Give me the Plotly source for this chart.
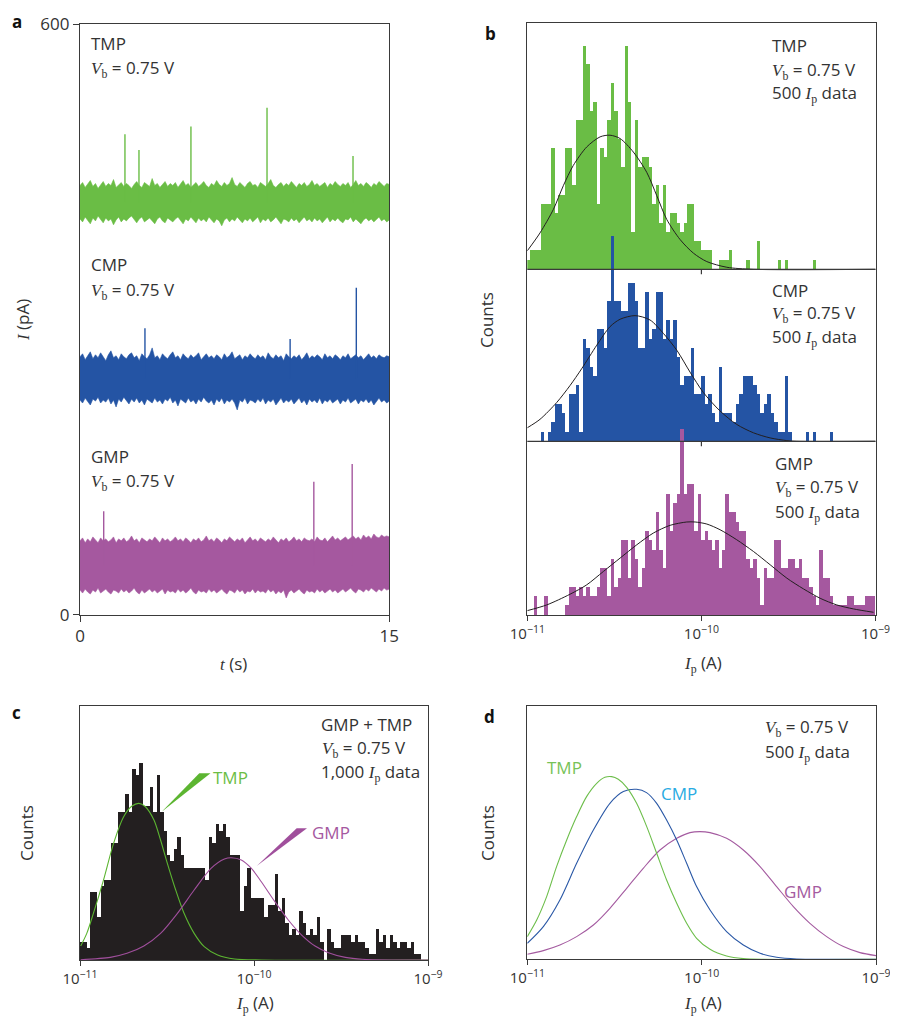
import plotly.graph_objects as go

# page body has an 8 px margin: figure is sized so that it ends exactly at the window edges
OFF = 8
W, H = 898 - OFF, 1019 - OFF


def px(x):
    return (x - OFF) / W


def py(y):
    return 1 - (y - OFF) / H


# ---------------- Panel a : current traces (pA), noise envelopes sampled over 0-15 s ----------------
tmp_upper = [436, 439, 434, 437, 441, 435, 438, 433, 437, 440,
             435, 438, 436, 442, 434, 437, 439, 435, 438, 436,
             433, 437, 440, 436, 434, 439, 437, 435, 443, 436,
             438, 434, 437, 440, 435, 438, 436, 439, 434, 437,
             441, 436, 438, 434, 437, 439, 435, 437, 440, 436,
             434, 438, 436, 441, 437, 435, 439, 436, 438, 444,
             437, 435, 439, 436, 434, 438, 440, 436, 437, 434,
             439, 437, 435, 438, 442, 436, 434, 437, 439, 435,
             438, 436, 440, 437, 434, 438, 436, 439, 435, 437,
             441, 436, 438, 435, 437, 439, 434, 438, 436, 440,
             437, 435, 438, 436, 439, 434, 437, 441, 436, 438,
             435, 439, 437, 434, 438, 436, 440, 437, 435, 438, 437]
tmp_lower = [402, 399, 404, 401, 397, 403, 400, 405, 401, 398,
             403, 400, 402, 396, 401, 404, 399, 402, 400, 403,
             405, 401, 398, 402, 404, 399, 401, 403, 400, 397,
             402, 404, 400, 398, 403, 401, 399, 402, 404, 400,
             397, 402, 400, 404, 401, 398, 403, 400, 402, 399,
             404, 401, 398, 402, 400, 395, 401, 403, 399, 402,
             400, 404, 401, 398, 402, 400, 403, 399, 401, 404,
             398, 402, 400, 403, 399, 401, 404, 400, 397, 402,
             401, 399, 403, 400, 402, 398, 401, 404, 400, 402,
             399, 403, 400, 402, 398, 401, 404, 399, 402, 400,
             403, 400, 398, 402, 401, 404, 399, 402, 400, 397,
             401, 403, 400, 402, 399, 401, 404, 400, 402, 399, 401]
cmp_upper = [262, 265, 259, 263, 267, 260, 264, 261, 266, 262,
             258, 264, 268, 261, 263, 259, 265, 262, 260, 264,
             266, 261, 263, 258, 265, 262, 260, 264, 271, 261,
             263, 259, 265, 262, 260, 264, 267, 261, 263, 259,
             265, 262, 260, 264, 261, 263, 266, 259, 262, 265,
             261, 263, 260, 264, 262, 259, 265, 261, 263, 267,
             260, 262, 264, 259, 263, 261, 265, 262, 260, 264,
             261, 263, 259, 266, 262, 260, 264, 261, 263, 258,
             265, 262, 260, 263, 261, 264, 259, 262, 266, 260,
             263, 261, 264, 262, 259, 265, 261, 263, 260, 264,
             262, 259, 263, 261, 265, 260, 262, 264, 261, 263,
             259, 262, 265, 261, 263, 260, 264, 262, 261, 263, 262]
cmp_lower = [218, 215, 220, 216, 213, 219, 217, 221, 215, 218,
             216, 220, 214, 218, 211, 219, 216, 221, 217, 214,
             219, 216, 220, 215, 218, 213, 219, 217, 215, 220,
             216, 218, 214, 219, 217, 221, 215, 218, 212, 219,
             217, 215, 220, 216, 218, 214, 219, 216, 221, 217,
             215, 218, 213, 219, 216, 220, 214, 218, 216, 219,
             215, 208, 218, 216, 220, 214, 218, 217, 215, 219,
             216, 220, 214, 218, 216, 219, 213, 217, 220, 215,
             218, 216, 219, 214, 217, 220, 215, 218, 213, 219,
             216, 218, 215, 220, 214, 218, 216, 219, 215, 217,
             219, 214, 218, 216, 220, 215, 217, 219, 214, 218,
             216, 219, 215, 218, 213, 217, 220, 216, 218, 215, 217]
gmp_upper = [75, 78, 73, 77, 74, 79, 76, 73, 78, 75,
             77, 74, 76, 79, 73, 77, 75, 78, 74, 76,
             80, 75, 77, 73, 78, 76, 74, 77, 75, 79,
             76, 73, 78, 75, 77, 74, 76, 79, 75, 77,
             74, 78, 76, 73, 77, 75, 78, 74, 76, 80,
             75, 77, 74, 78, 76, 73, 77, 75, 79, 76,
             74, 77, 75, 78, 73, 76, 79, 75, 77, 74,
             78, 76, 74, 77, 75, 79, 76, 73, 77, 75,
             78, 74, 76, 79, 75, 77, 74, 78, 76, 75,
             77, 74, 79, 76, 75, 78, 74, 77, 80, 76,
             78, 75, 77, 79, 76, 78, 80, 77, 79, 76,
             81, 78, 80, 77, 82, 79, 78, 81, 79, 80, 79]
gmp_lower = [25, 22, 26, 23, 21, 25, 23, 27, 22, 24,
             26, 23, 21, 25, 24, 22, 26, 23, 25, 22,
             24, 27, 23, 21, 25, 22, 24, 26, 23, 25,
             22, 24, 26, 21, 25, 23, 24, 22, 26, 23,
             25, 22, 24, 27, 23, 21, 25, 23, 24, 22,
             26, 23, 25, 22, 24, 26, 23, 21, 25, 24,
             22, 26, 23, 25, 21, 24, 23, 26, 22, 25,
             23, 24, 22, 26, 23, 25, 21, 24, 22, 25,
             17, 23, 25, 22, 24, 26, 23, 21, 25, 23,
             24, 22, 26, 23, 25, 22, 24, 26, 23, 25,
             22, 24, 26, 23, 25, 27, 24, 22, 26, 25,
             23, 26, 24, 27, 25, 23, 26, 24, 27, 25, 26]

tmp_spike_t = [2.18, 2.86, 5.38, 9.07, 13.24]
tmp_spike_peak = [488, 472, 496, 515, 466]
cmp_spike_t = [3.15, 10.19, 13.4]
cmp_spike_peak = [291, 280, 332]
gmp_spike_t = [1.15, 11.34, 13.2]
gmp_spike_peak = [105, 135, 153]

# ---------------- Panel b : histograms (counts per 1/50 decade bin, from 1e-11) ----------------
tmp_counts = [1, 2, 2, 2, 7, 7, 7, 13, 6, 8, 8, 13, 13, 9, 16, 16, 24, 22, 17, 18,
              7, 13, 12, 16, 20, 17, 14, 11, 24, 18, 4, 16, 11, 12, 12, 11, 7, 9, 5, 9,
              4, 6, 6, 5, 4, 5, 7, 7, 3, 3, 2, 2, 2, 0, 0, 1, 1, 1, 2, 0,
              0, 0, 0, 1, 0, 0, 3, 0, 0, 0, 0, 0, 1, 0, 1, 0, 0, 0, 0, 0,
              0, 0, 1, 0, 0, 0, 0, 0, 0, 0, 0, 0, 0, 0, 0, 0, 0, 0, 0, 0]
cmp_counts = [0, 0, 0, 0, 1, 0, 1, 2, 4, 4, 3, 1, 5, 5, 6, 1, 11, 10, 8, 7,
              12, 12, 10, 15, 22, 15, 15, 14, 14, 17, 17, 15, 10, 10, 16, 11, 12, 16, 16, 11,
              13, 11, 13, 9, 6, 7, 7, 10, 5, 5, 7, 4, 5, 3, 2, 8, 3, 3, 3, 2,
              4, 5, 7, 7, 7, 6, 5, 3, 4, 5, 3, 2, 1, 1, 7, 1, 0, 0, 0, 0,
              1, 0, 1, 0, 0, 0, 0, 1, 0, 0, 0, 0, 0, 0, 0, 0, 0, 0, 0, 0]
gmp_counts = [0, 0, 2, 0, 0, 2, 0, 0, 0, 0, 0, 1, 3, 3, 2, 3, 2, 3, 2, 2,
              3, 5, 5, 2, 6, 3, 4, 8, 8, 4, 8, 6, 3, 5, 9, 8, 7, 11, 7, 5,
              13, 9, 12, 13, 20, 13, 14, 14, 9, 13, 8, 9, 8, 7, 8, 5, 7, 13, 11, 11,
              10, 9, 9, 6, 5, 6, 4, 1, 5, 4, 4, 8, 8, 5, 5, 6, 6, 5, 6, 4,
              4, 3, 2, 1, 7, 4, 4, 2, 1, 1, 1, 1, 2, 2, 1, 1, 1, 2, 2, 2]

# fitted curves (log10 I, counts)
tmp_fit_x = [-11.0, -10.927, -10.85, -10.793, -10.736, -10.659, -10.582, -10.525, -10.467, -10.391,
             -10.314, -10.256, -10.199, -10.122, -10.046, -9.969, -9.854, -9.701, -9.0]
tmp_fit_y = [1.99, 3.91, 6.45, 8.99, 11.16, 13.15, 14.24, 14.42, 14.06, 12.61,
             10.43, 7.90, 5.36, 3.19, 1.74, 0.83, 0.22, 0.0, 0.0]
cmp_fit_x = [-11.0, -10.927, -10.831, -10.755, -10.688, -10.601, -10.525, -10.467, -10.381, -10.295,
             -10.218, -10.141, -10.065, -9.989, -9.893, -9.797, -9.701, -9.605, -9.509, -9.452, -9.0]
cmp_fit_y = [1.45, 2.36, 4.17, 5.98, 7.79, 10.33, 12.32, 13.12, 13.51, 13.04,
             11.59, 9.78, 7.43, 5.25, 3.26, 1.81, 0.91, 0.36, 0.07, 0.0, 0.0]
gmp_fit_x = [-11.0, -10.889, -10.755, -10.659, -10.563, -10.467, -10.371, -10.276, -10.18, -10.084,
             -10.036, -9.969, -9.893, -9.797, -9.701, -9.605, -9.509, -9.414, -9.318, -9.222, -9.126, -9.011]
gmp_fit_y = [0.47, 1.08, 2.23, 3.24, 4.68, 6.12, 7.55, 8.81, 9.64, 10.0,
             10.0, 9.78, 9.17, 8.09, 6.83, 5.40, 3.96, 2.81, 1.80, 1.08, 0.65, 0.29]

# ---------------- Panel c : GMP + TMP, 1,000 data ----------------
mix_counts = [3, 3, 2, 11, 11, 7, 12, 13, 13, 19, 19, 24, 24, 27, 24, 31, 30, 32, 25, 25,
              28, 24, 30, 24, 21, 17, 16, 18, 20, 17, 15, 15, 15, 15, 15, 15, 13, 20, 19, 22,
              21, 22, 20, 17, 17, 17, 8, 12, 15, 10, 10, 10, 10, 7, 9, 9, 14, 8, 10, 6,
              4, 5, 4, 8, 6, 4, 5, 4, 7, 3, 0, 5, 3, 2, 2, 4, 4, 4, 3, 4,
              3, 3, 2, 1, 1, 5, 3, 4, 2, 4, 3, 2, 3, 3, 2, 3, 1, 1, 0, 0]
c_tmp_fit_x = [-10.996, -10.961, -10.923, -10.865, -10.807, -10.749, -10.701, -10.662, -10.624, -10.575,
               -10.537, -10.498, -10.45, -10.402, -10.344, -10.286, -10.209, -10.112, -9.958, -9.0]
c_tmp_fit_y = [2.27, 4.32, 7.57, 12.97, 18.92, 23.24, 24.97, 25.41, 24.86, 22.70,
               19.46, 15.68, 11.35, 7.57, 4.32, 2.16, 0.81, 0.16, 0.0, 0.0]
c_gmp_fit_x = [-10.996, -10.826, -10.73, -10.633, -10.537, -10.44, -10.344, -10.247, -10.17, -10.131,
               -10.073, -10.015, -9.958, -9.88, -9.803, -9.726, -9.649, -9.572, -9.475, -9.378, -9.19, -9.0]
c_gmp_fit_y = [0.05, 0.43, 1.08, 2.27, 4.32, 7.57, 11.35, 14.86, 16.38, 16.59,
               16.22, 14.86, 12.70, 9.46, 6.49, 4.05, 2.27, 1.19, 0.43, 0.11, 0.0, 0.0]

# ---------------- Panel d : fitted distributions ----------------
d_tmp_x = [-11.0, -10.946, -10.889, -10.832, -10.774, -10.717, -10.66, -10.602, -10.555, -10.516, -10.478,
           -10.43, -10.373, -10.315, -10.258, -10.201, -10.143, -10.086, -10.029, -9.952, -9.857, -9.761,
           -9.646, -9.0]
d_tmp_y = [22.7, 39.3, 62.7, 92.7, 119.3, 142.7, 162.7, 176, 182, 182.7, 180,
           172, 156, 132.7, 106, 79.3, 56, 36, 21, 10, 3.3, 0.7, 0, 0]
d_cmp_x = [-11.0, -10.908, -10.813, -10.717, -10.621, -10.526, -10.449, -10.373, -10.316, -10.258, -10.201,
           -10.143, -10.086, -10.029, -9.952, -9.857, -9.761, -9.665, -9.57, -9.455, -9.283, -9.0]
d_cmp_y = [16, 32.7, 59.3, 96, 129.3, 156, 167.7, 170, 166.7, 156, 139.3,
           119.3, 96, 72.7, 49.3, 27.7, 14.3, 6, 2, 0.3, 0, 0]
d_gmp_x = [-11.0, -10.908, -10.813, -10.717, -10.621, -10.526, -10.43, -10.335, -10.239, -10.143, -10.067,
           -10.01, -9.952, -9.857, -9.761, -9.665, -9.57, -9.474, -9.379, -9.283, -9.187, -9.092, -9.0]
d_gmp_y = [5, 8.7, 14.3, 22.7, 34.3, 51, 71, 91, 109.3, 121, 126.7,
           127.7, 126.7, 121, 109.3, 92.7, 72.7, 52.7, 36, 22.7, 12.7, 6.7, 3.7]

log_ticks = [-11, -10, -9]
log_ticktext = ["10<sup>\u221211</sup>", "10<sup>\u221210</sup>", "10<sup>\u22129</sup>"]

# ---------------- styles ----------------
GREEN = "#6abd45"
BLUE = "#2454a4"
PURPLE = "#a5589f"
BLACK = "#231f20"
TXT = "#333333"
FONT = "Open Sans"
FS = 17
TFS = 15
SERIF = "Liberation Serif"

BIN_W = 0.02
BIN_START = -11.0
B_OFF_GMP, B_OFF_CMP, B_OFF_TMP = 0.0, 18.68, 37.17


def centers(n):
    return [BIN_START + BIN_W * (k + 0.5) for k in range(n)]


fig = go.Figure()

# panel a bands and spikes
for upper, lower, st, sp, col in [
    (tmp_upper, tmp_lower, tmp_spike_t, tmp_spike_peak, GREEN),
    (cmp_upper, cmp_lower, cmp_spike_t, cmp_spike_peak, BLUE),
    (gmp_upper, gmp_lower, gmp_spike_t, gmp_spike_peak, PURPLE),
]:
    n = min(len(upper), len(lower))
    t = [15.0 * i / (n - 1) for i in range(n)]
    fig.add_trace(go.Scatter(x=t + t[::-1], y=upper[:n] + lower[:n][::-1], mode="lines", fill="toself",
                             fillcolor=col, line=dict(color=col, width=0.6), xaxis="x", yaxis="y",
                             hoverinfo="skip"))
    mid = (sum(upper[:n]) + sum(lower[:n])) / (2 * n)
    sx, sy = [], []
    for tt, pk in zip(st, sp):
        sx += [tt, tt, None]
        sy += [mid, pk, None]
    fig.add_trace(go.Scatter(x=sx, y=sy, mode="lines", line=dict(color=col, width=1.4),
                             xaxis="x", yaxis="y", hoverinfo="skip"))

# panel b histograms (drawn TMP, CMP, GMP so lower panels overlap upper)
for counts, off, col, fx, fy in [
    (tmp_counts, B_OFF_TMP, GREEN, tmp_fit_x, tmp_fit_y),
    (cmp_counts, B_OFF_CMP, BLUE, cmp_fit_x, cmp_fit_y),
    (gmp_counts, B_OFF_GMP, PURPLE, gmp_fit_x, gmp_fit_y),
]:
    fig.add_trace(go.Bar(x=centers(len(counts)), y=counts, base=off, width=BIN_W,
                         marker=dict(color=col, line=dict(width=0)), xaxis="x2", yaxis="y2"))
    fig.add_trace(go.Scatter(x=fx, y=[off + v for v in fy], mode="lines",
                             line=dict(color=BLACK, width=1, shape="spline", smoothing=0.8),
                             xaxis="x2", yaxis="y2"))

# panel c
fig.add_trace(go.Bar(x=centers(len(mix_counts)), y=mix_counts, width=BIN_W,
                     marker=dict(color=BLACK, line=dict(width=0)), xaxis="x3", yaxis="y3"))
fig.add_trace(go.Scatter(x=c_tmp_fit_x, y=c_tmp_fit_y, mode="lines",
                         line=dict(color="#5cb531", width=1.1, shape="spline", smoothing=0.8),
                         xaxis="x3", yaxis="y3"))
fig.add_trace(go.Scatter(x=c_gmp_fit_x, y=c_gmp_fit_y, mode="lines",
                         line=dict(color="#a04f9c", width=1.1, shape="spline", smoothing=0.8),
                         xaxis="x3", yaxis="y3"))

# panel d
for xs, ys, col in [(d_gmp_x, d_gmp_y, "#a45ba0"), (d_cmp_x, d_cmp_y, "#2a58a6"), (d_tmp_x, d_tmp_y, "#6dbe4b")]:
    fig.add_trace(go.Scatter(x=xs, y=ys, mode="lines",
                             line=dict(color=col, width=1.1, shape="spline", smoothing=0.8),
                             xaxis="x4", yaxis="y4"))

axis_common = dict(showline=True, mirror=True, linecolor="#3a3a3a", linewidth=1.2, showgrid=False,
                   zeroline=False, tickcolor="#3a3a3a", fixedrange=True, automargin=False)
log_font = dict(family=FONT, size=TFS, color=TXT)
lin_font = dict(family=FONT, size=17, color=TXT)

fig.update_layout(
    width=W, height=H, margin=dict(l=0, r=0, t=0, b=0, autoexpand=False),
    paper_bgcolor="white", plot_bgcolor="white", showlegend=False,
    barmode="overlay", bargap=0,
    font=dict(family=FONT, size=FS, color=TXT),
    xaxis=dict(domain=[px(80), px(389.3)], anchor="y", range=[0, 15], tickvals=[0, 15],
               ticks="outside", ticklen=6, tickfont=lin_font, **axis_common),
    yaxis=dict(domain=[py(614.7), py(24)], anchor="x", range=[0, 600], tickvals=[0, 600],
               ticks="outside", ticklen=6, tickfont=lin_font, **axis_common),
    xaxis2=dict(domain=[px(527.3), px(875.5)], anchor="y2", range=[-11, -9], tickvals=log_ticks,
                ticktext=log_ticktext, ticks="outside", ticklen=5, tickfont=log_font, **axis_common),
    yaxis2=dict(domain=[py(615), py(23.3)], anchor="x2", range=[0, 63.62], showticklabels=False,
                ticks="", **axis_common),
    xaxis3=dict(domain=[px(80), px(428)], anchor="y3", range=[-11, -9], tickvals=log_ticks,
                ticktext=log_ticktext, ticks="outside", ticklen=5, tickfont=log_font, **axis_common),
    yaxis3=dict(domain=[py(960), py(706)], anchor="x3", range=[0, 41.2], showticklabels=False,
                ticks="", **axis_common),
    xaxis4=dict(domain=[px(527.3), px(876)], anchor="y4", range=[-11, -9], tickvals=log_ticks,
                ticktext=log_ticktext, ticks="outside", ticklen=5, tickfont=log_font, **axis_common),
    yaxis4=dict(domain=[py(959.3), py(706)], anchor="x4", range=[0, 253.3], showticklabels=False,
                ticks="", **axis_common),
)

shapes = []
# separators in panel b with small ticks at 1e-10
for ysep in (269.3, 441.3):
    shapes.append(dict(type="line", xref="paper", yref="paper", x0=px(527.3), x1=px(875.5),
                       y0=py(ysep), y1=py(ysep), line=dict(color="#3a3a3a", width=1.2), layer="above"))
    shapes.append(dict(type="line", xref="paper", yref="paper", x0=px(701.4), x1=px(701.4),
                       y0=py(ysep), y1=py(ysep + 5), line=dict(color="#3a3a3a", width=1.2), layer="above"))
# wedges in panel c
shapes.append(dict(type="path", xref="paper", yref="paper",
                   path=f"M {px(161.7)},{py(811.7)} L {px(199.3)},{py(773.3)} L {px(210.5)},{py(773.3)} Z",
                   fillcolor="#5cb531", line=dict(width=0)))
shapes.append(dict(type="path", xref="paper", yref="paper",
                   path=f"M {px(256.7)},{py(866)} L {px(296.7)},{py(828.3)} L {px(307)},{py(828.3)} Z",
                   fillcolor="#a04f9c", line=dict(width=0)))
fig.update_layout(shapes=shapes)


def vb():
    return f'<span style="font-family:{SERIF}"><i>V</i><sub>b</sub></span> = 0.75 V'


def ipdata(n):
    return f'{n} <span style="font-family:{SERIF}"><i>I</i><sub>p</sub></span> data'


def ip_title():
    return f'<span style="font-family:{SERIF}"><i>I</i><sub>p</sub></span> (A)'


ann = []


def add(text, x, y, xanchor="left", color=TXT, size=FS, angle=0, bold=False):
    ann.append(dict(text=f"<b>{text}</b>" if bold else text, x=px(x), y=py(y), xref="paper", yref="paper",
                    xanchor=xanchor, yanchor="middle", showarrow=False, textangle=angle,
                    font=dict(family=FONT, size=size, color=color)))


# panel letters
add("a", 16.5, 21.5, "center", color="#111", size=17, bold=True)
add("b", 490, 33, "center", color="#111", size=17, bold=True)
add("c", 16, 712, "center", color="#111", size=17, bold=True)
add("d", 489, 716, "center", color="#111", size=17, bold=True)

# panel a
add("TMP", 89, 43)
add(vb(), 89, 68)
add("CMP", 89, 265)
add(vb(), 89, 290)
add("GMP", 89, 456.5)
add(vb(), 89, 481.5)
add(f'<span style="font-family:{SERIF}"><i>I</i></span> (pA)', 22, 320, "center", angle=-90)
add(f'<span style="font-family:{SERIF}"><i>t</i></span> (s)', 233, 663, "center")

# panel b
add("TMP", 770, 45)
add(vb(), 770, 70)
add(ipdata(500), 770, 94)
add("CMP", 770, 290)
add(vb(), 770, 313.5)
add(ipdata(500), 770, 338)
add("GMP", 773, 463)
add(vb(), 773, 488)
add(ipdata(500), 773, 512)
add("Counts", 486, 320, "center", angle=-90)
add(ip_title(), 703, 663, "center")

# panel c
add("GMP + TMP", 319, 724)
add(vb(), 320, 748)
add(ipdata("1,000"), 319, 772)
add("TMP", 211, 777, color="#6cbd45")
add("GMP", 309.5, 832, color="#a5589f")
add("Counts", 26, 833, "center", angle=-90)
add(ip_title(), 255, 1003, "center")

# panel d
add(vb(), 763, 727)
add(ipdata(500), 763, 752)
add("TMP", 545, 767, color="#77c257")
add("CMP", 659, 793, color="#29abe2")
add("GMP", 782, 891, color="#a45ba0")
add("Counts", 487, 833, "center", angle=-90)
add(ip_title(), 703, 1003, "center")

fig.update_layout(annotations=ann)

fig.write_html("out.html")
